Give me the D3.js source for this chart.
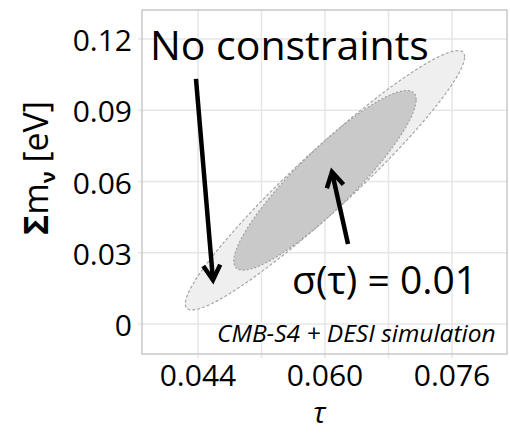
<!DOCTYPE html>
<html>
<head>
<meta charset="utf-8">
<script src="https://cdn.jsdelivr.net/npm/d3@7/dist/d3.min.js"></script>
<style>
body { margin: 0; background: #fff; }
text { font-family: "Open Sans", sans-serif; }
</style>
</head>
<body>
<script>
const w = 510
const h = 434

// axis limits and ticks
const xLim = [0.03695, 0.08293]
const yLim = [-0.01263, 0.13221]
const xMajor = [0.044, 0.060, 0.076]
const xMinor = [0.052, 0.068]
const yMajor = [0, 0.03, 0.06, 0.09, 0.12]
const xLabels = ["0.044", "0.060", "0.076"]
const yLabels = ["0", "0.03", "0.06", "0.09", "0.12"]

// forecast: fiducial point and 1-sigma errors without any tau prior
const fiducial = [0.060, 0.0605]
const sigTau = 0.0116
const sigMnu = 0.036
const rho = 0.952
const tauPrior = 0.01
const k2 = 2.30 // 68% contour for 2 params

// annotations, in data units [tau, mnu]
const arrows = [
    [[0.04375, 0.1032], [0.04589, 0.01853]],
    [[0.06290, 0.03368], [0.06088, 0.06400]]
]
const labels = [
    {text: "No constraints", pos: [0.03795, 0.1112], size: 41, anchor: "start", italic: false},
    {text: "σ(τ) = 0.01", pos: [0.05585, 0.0126], size: 39, anchor: "start", italic: false},
    {text: "CMB-S4 + DESI simulation", pos: [0.08150, -0.0076], size: 24.5, anchor: "end", italic: true}
]

// panel position on the page
const pLeft = 142, pRight = 507, pTop = 10, pBottom = 354

let x = d3.scaleLinear().domain(xLim).range([pLeft, pRight])
let y = d3.scaleLinear().domain(yLim).range([pBottom, pTop])

let svg = d3.select("body").append("svg").attr("width", w).attr("height", h)

// gridlines
svg.selectAll(".gx").data(xMajor.concat(xMinor)).enter().append("line")
    .attr("x1", d => x(d)).attr("x2", d => x(d))
    .attr("y1", pTop).attr("y2", pBottom + 4)
    .attr("stroke", "#e6e6e6").attr("stroke-width", 1.5)
svg.selectAll(".gy").data(yMajor).enter().append("line")
    .attr("x1", pLeft - 4).attr("x2", pRight)
    .attr("y1", d => y(d)).attr("y2", d => y(d))
    .attr("stroke", "#e6e6e6").attr("stroke-width", 1.5)

// covariance matrices: outer = no prior, inner = with gaussian prior on tau
function cov(sx, sy, r) {
    return [sx * sx, r * sx * sy, sy * sy]
}
let cOut = cov(sigTau, sigMnu, rho)
let g = cOut[0] / (cOut[0] + tauPrior * tauPrior)
let cIn = [cOut[0] * (1 - g), cOut[1] * (1 - g), cOut[2] - cOut[1] * cOut[1] / (cOut[0] + tauPrior * tauPrior)]

function ellipse(c) {
    let l11 = Math.sqrt(c[0])
    let l21 = c[1] / l11
    let l22 = Math.sqrt(c[2] - l21 * l21)
    let s = Math.sqrt(k2)
    return d3.range(0, 361, 2).map(a => {
        let t = a * Math.PI / 180
        let u = Math.cos(t), v = Math.sin(t)
        return [fiducial[0] + s * l11 * u, fiducial[1] + s * (l21 * u + l22 * v)]
    })
}
let line = d3.line().x(d => x(d[0])).y(d => y(d[1])).curve(d3.curveLinearClosed)

svg.append("path").datum(ellipse(cOut)).attr("d", line)
    .attr("fill", "#efefef").attr("stroke", "#a6a6a6")
    .attr("stroke-width", 1.2).attr("stroke-dasharray", "3,2")
svg.append("path").datum(ellipse(cIn)).attr("d", line)
    .attr("fill", "#c9c9c9").attr("stroke", "#a0a0a0")
    .attr("stroke-width", 1.2).attr("stroke-dasharray", "2,2")

// panel border
svg.append("rect").attr("x", pLeft).attr("y", pTop)
    .attr("width", pRight - pLeft).attr("height", pBottom - pTop)
    .attr("fill", "none").attr("stroke", "#c8c8c8").attr("stroke-width", 1.5)

// tick labels
svg.selectAll(".xl").data(xMajor).enter().append("text")
    .attr("x", d => x(d)).attr("y", 386)
    .attr("text-anchor", "middle").attr("font-size", 30)
    .text((d, i) => xLabels[i])
svg.selectAll(".yl").data(yMajor).enter().append("text")
    .attr("x", 132).attr("y", d => y(d) + 12)
    .attr("text-anchor", "end").attr("font-size", 30)
    .text((d, i) => yLabels[i])

// axis titles
svg.append("text").attr("x", (pLeft + pRight) / 2 - 5).attr("y", 423)
    .attr("text-anchor", "middle").attr("font-size", 29)
    .attr("font-family", "Liberation Serif, serif").attr("font-style", "italic")
    .text("τ")
let yt = svg.append("text").attr("transform", "translate(48,168) rotate(-90)")
    .attr("text-anchor", "middle").attr("font-size", 34)
yt.append("tspan").attr("font-weight", "bold").text("Σ")
yt.append("tspan").text("m")
yt.append("tspan").attr("font-size", 20).attr("font-weight", "bold").attr("dy", 7).text("ν")
yt.append("tspan").attr("dy", -7).text(" [eV]")

// annotation arrows
arrows.forEach(a => {
    let x0 = x(a[0][0]), y0 = y(a[0][1]), x1 = x(a[1][0]), y1 = y(a[1][1])
    let ang = Math.atan2(y1 - y0, x1 - x0)
    let len = 17, spread = Math.PI / 6
    let p1 = [x1 - len * Math.cos(ang - spread), y1 - len * Math.sin(ang - spread)]
    let p2 = [x1 - len * Math.cos(ang + spread), y1 - len * Math.sin(ang + spread)]
    svg.append("line").attr("x1", x0).attr("y1", y0).attr("x2", x1).attr("y2", y1)
        .attr("stroke", "black").attr("stroke-width", 4.5)
    svg.append("path").attr("d", `M${p1[0]},${p1[1]}L${x1},${y1}L${p2[0]},${p2[1]}`)
        .attr("fill", "none").attr("stroke", "black").attr("stroke-width", 4.5)
        .attr("stroke-linejoin", "miter")
})

// annotation labels
svg.selectAll(".lab").data(labels).enter().append("text")
    .attr("x", d => x(d.pos[0])).attr("y", d => y(d.pos[1]))
    .attr("text-anchor", d => d.anchor).attr("font-size", d => d.size)
    .attr("font-style", d => d.italic ? "italic" : "normal")
    .text(d => d.text)
</script>
</body>
</html>
